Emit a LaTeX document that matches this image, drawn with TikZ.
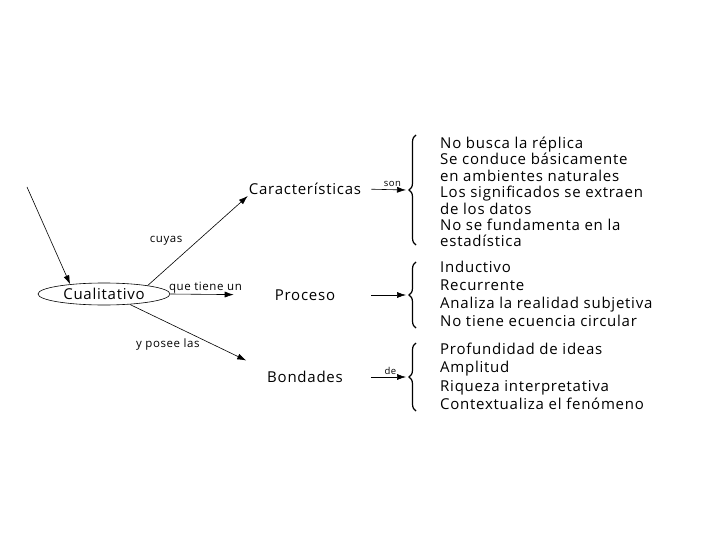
\documentclass[tikz,border=0pt]{standalone}
\usepackage{fontspec}
\setmainfont{Open Sans}[LetterSpace=5]
\usetikzlibrary{arrows.meta, positioning, shapes.geometric, decorations.pathreplacing}
\tikzset{
    concept/.style={font=\fontsize{15}{17}\selectfont, inner sep=1pt},
    item/.style={font=\fontsize{15}{17}\selectfont, anchor=west, inner sep=0pt, text height=10.5pt, text depth=3.5pt},
    link/.style={font=\fontsize{11.5}{13}\selectfont, inner sep=1pt},
    smalllink/.style={font=\fontsize{9.5}{11}\selectfont, inner sep=1pt},
    arrow/.style={-{Latex[length=9pt,width=6pt]}, semithick},
    bracket/.style={decorate, decoration={brace, amplitude=7pt}, very thick}
}
\begin{document}
\begin{tikzpicture}[x=1pt, y=-1pt]
    \useasboundingbox (0,0) rectangle (720,540);
    % main concepts
    \coordinate (start) at (27,187);
    \node (cual) [ellipse, draw, semithick, concept, minimum width=132pt, minimum height=22pt, inner sep=0pt] at (104,294) {Cualitativo};
    \node (carac) [concept] at (305,189) {Características};
    \node (proc) [concept] at (305,295) {Proceso};
    \node (bond) [concept] at (305,377) {Bondades};

    % brace tips
    \coordinate (b1) at (406,190);
    \coordinate (b2) at (406,295);
    \coordinate (b3) at (406,377);

    \draw [arrow] (start) -- (cual.164);
    \draw [arrow] (cual.11) -- node[link, left=14pt]{cuyas} (carac.south west);
    \draw [arrow, shorten >=40pt] (cual.east) -- node[link, above, pos=0.34]{que tiene un} (proc.west);
    \draw [arrow, shorten >=22pt] (cual.-22) -- node[link, anchor=north east, pos=0.5, xshift=3pt]{y posee las} (bond.north west);
    \draw [arrow, shorten <=9pt] (carac.east) -- node[smalllink, above=2pt, pos=0.69]{son} (b1);
    \draw [arrow, shorten <=35pt] (proc.east) -- (b2);
    \draw [arrow, shorten <=27pt] (bond.east) -- node[smalllink, above=1pt, pos=0.75]{de} (b3);

    % braces
    \coordinate (t1) at (416,135); \coordinate (u1) at (416,245);
    \coordinate (t2) at (416,262); \coordinate (u2) at (416,328);
    \coordinate (t3) at (416,343); \coordinate (u3) at (416,411);
    \draw [bracket] (u1) -- (t1);
    \draw [bracket] (u2) -- (t2);
    \draw [bracket] (u3) -- (t3);

    % lists
    \node (c1) [item] at (440,145) {No busca la réplica};
    \node (c2) [item, below=2pt of c1.south west, anchor=north west] {Se conduce básicamente};
    \node (c3) [item, below=2pt of c2.south west, anchor=north west] {en ambientes naturales};
    \node (c4) [item, below=2pt of c3.south west, anchor=north west] {Los significados se extraen};
    \node (c5) [item, below=2pt of c4.south west, anchor=north west] {de los datos};
    \node (c6) [item, below=2pt of c5.south west, anchor=north west] {No se fundamenta en la};
    \node (c7) [item, below=2pt of c6.south west, anchor=north west] {estadística};

    \node (p1) [item] at (440,269) {Inductivo};
    \node (p2) [item, below=3.7pt of p1.south west, anchor=north west] {Recurrente};
    \node (p3) [item, below=3.7pt of p2.south west, anchor=north west] {Analiza la realidad subjetiva};
    \node (p4) [item, below=3.7pt of p3.south west, anchor=north west] {No tiene ecuencia circular};

    \node (d1) [item] at (440,351) {Profundidad de ideas};
    \node (d2) [item, below=4pt of d1.south west, anchor=north west] {Amplitud};
    \node (d3) [item, below=4pt of d2.south west, anchor=north west] {Riqueza interpretativa};
    \node (d4) [item, below=4pt of d3.south west, anchor=north west] {Contextualiza el fenómeno};
\end{tikzpicture}
\end{document}
